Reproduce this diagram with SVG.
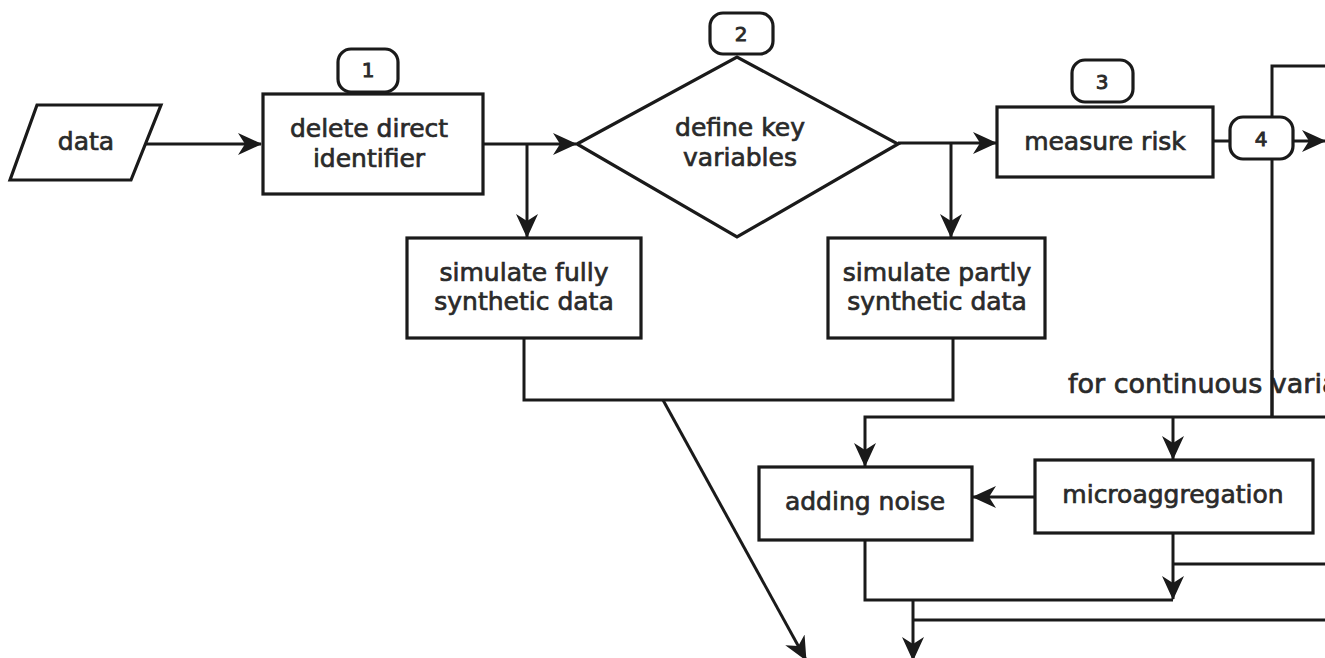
<svg xmlns="http://www.w3.org/2000/svg" width="1325" height="658" viewBox="0 0 1325 658">
<defs>
<marker id="arr" markerUnits="userSpaceOnUse" markerWidth="24" markerHeight="22" refX="23" refY="11" orient="auto">
<path d="M0,0 L24,11 L0,22 L7,11 z" fill="#1a1a1a"/>
</marker>
<style>
.box{fill:#fff;stroke:#1a1a1a;stroke-width:3.2}
.badge{fill:#fff;stroke:#1a1a1a;stroke-width:3.2}
.ln{fill:none;stroke:#1a1a1a;stroke-width:3}
.t{font-family:"DejaVu Sans","Liberation Sans",sans-serif;font-size:25px;fill:#2a2a2a;stroke:#2a2a2a;stroke-width:0.7;text-anchor:middle}
.n{font-family:"DejaVu Sans","Liberation Sans",sans-serif;font-size:20px;fill:#2a2a2a;stroke:#2a2a2a;stroke-width:0.9;text-anchor:middle}
</style>
</defs>
<rect width="1325" height="658" fill="#fff"/>
<g id="connectors">
<path class="ln" d="M146,144 H261" marker-end="url(#arr)"/>
<path class="ln" d="M483,144 H576" marker-end="url(#arr)"/>
<path class="ln" d="M527,144 V237" marker-end="url(#arr)"/>
<path class="ln" d="M898,143 H996" marker-end="url(#arr)"/>
<path class="ln" d="M951,143 V237" marker-end="url(#arr)"/>
<path class="ln" d="M1213,141 H1230"/>
<path class="ln" d="M1293,141 H1325" marker-end="url(#arr)"/>
<path class="ln" d="M1325,66 H1272 V117"/>
<path class="ln" d="M1272,159 V417"/>
<path class="ln" d="M524,338 V400 H953 V338"/>
<path class="ln" d="M663,400 L806,660" marker-end="url(#arr)"/>
<path class="ln" d="M1325,417 H865 V466" marker-end="url(#arr)"/>
<path class="ln" d="M1173,417 V459" marker-end="url(#arr)"/>
<path class="ln" d="M1035,497 H973" marker-end="url(#arr)"/>
<path class="ln" d="M1173,533 V599" marker-end="url(#arr)"/>
<path class="ln" d="M1325,564 H1173"/>
<path class="ln" d="M865,540 V600 H1173"/>
<path class="ln" d="M913,600 V660" marker-end="url(#arr)"/>
<path class="ln" d="M1325,620 H913"/>
</g>
<g id="data">
<polygon class="box" points="37,105 161,105 131,180 10,180"/>
<text class="t" x="86" y="150">data</text>
</g>
<g id="delete-direct-identifier">
<rect class="box" x="263" y="94" width="220" height="100"/>
<text class="t" x="369" y="137">delete direct</text>
<text class="t" x="369" y="167">identifier</text>
</g>
<g id="badge1">
<rect class="badge" x="338" y="49" width="60" height="43" rx="13"/>
<text class="n" x="368" y="77">1</text>
</g>
<g id="define-key-variables">
<polygon class="box" points="577,144 737,57 898,144 737,237"/>
<text class="t" x="740" y="136">define key</text>
<text class="t" x="740" y="166">variables</text>
</g>
<g id="badge2">
<rect class="badge" x="710" y="13" width="63" height="41" rx="13"/>
<text class="n" x="741" y="41">2</text>
</g>
<g id="measure-risk">
<rect class="box" x="997" y="107" width="216" height="70"/>
<text class="t" x="1105" y="150">measure risk</text>
</g>
<g id="badge3">
<rect class="badge" x="1072" y="60" width="61" height="42" rx="13"/>
<text class="n" x="1102" y="89">3</text>
</g>
<g id="badge4">
<rect class="badge" x="1230" y="117" width="63" height="42" rx="13"/>
<text class="n" x="1261" y="146">4</text>
</g>
<g id="simulate-fully">
<rect class="box" x="407" y="238" width="234" height="100"/>
<text class="t" x="524" y="281">simulate fully</text>
<text class="t" x="524" y="310">synthetic data</text>
</g>
<g id="simulate-partly">
<rect class="box" x="828" y="238" width="217" height="100"/>
<text class="t" x="937" y="281">simulate partly</text>
<text class="t" x="937" y="310">synthetic data</text>
</g>
<g id="continuous-label">
<text class="t" x="1068" y="393" style="text-anchor:start;font-size:27px">for continuous varia</text>
<path class="ln" d="M1272,370 V417"/>
</g>
<g id="adding-noise">
<rect class="box" x="759" y="467" width="213" height="73"/>
<text class="t" x="865" y="510">adding noise</text>
</g>
<g id="microaggregation">
<rect class="box" x="1035" y="460" width="278" height="73"/>
<text class="t" x="1173" y="503">microaggregation</text>
</g>
</svg>
